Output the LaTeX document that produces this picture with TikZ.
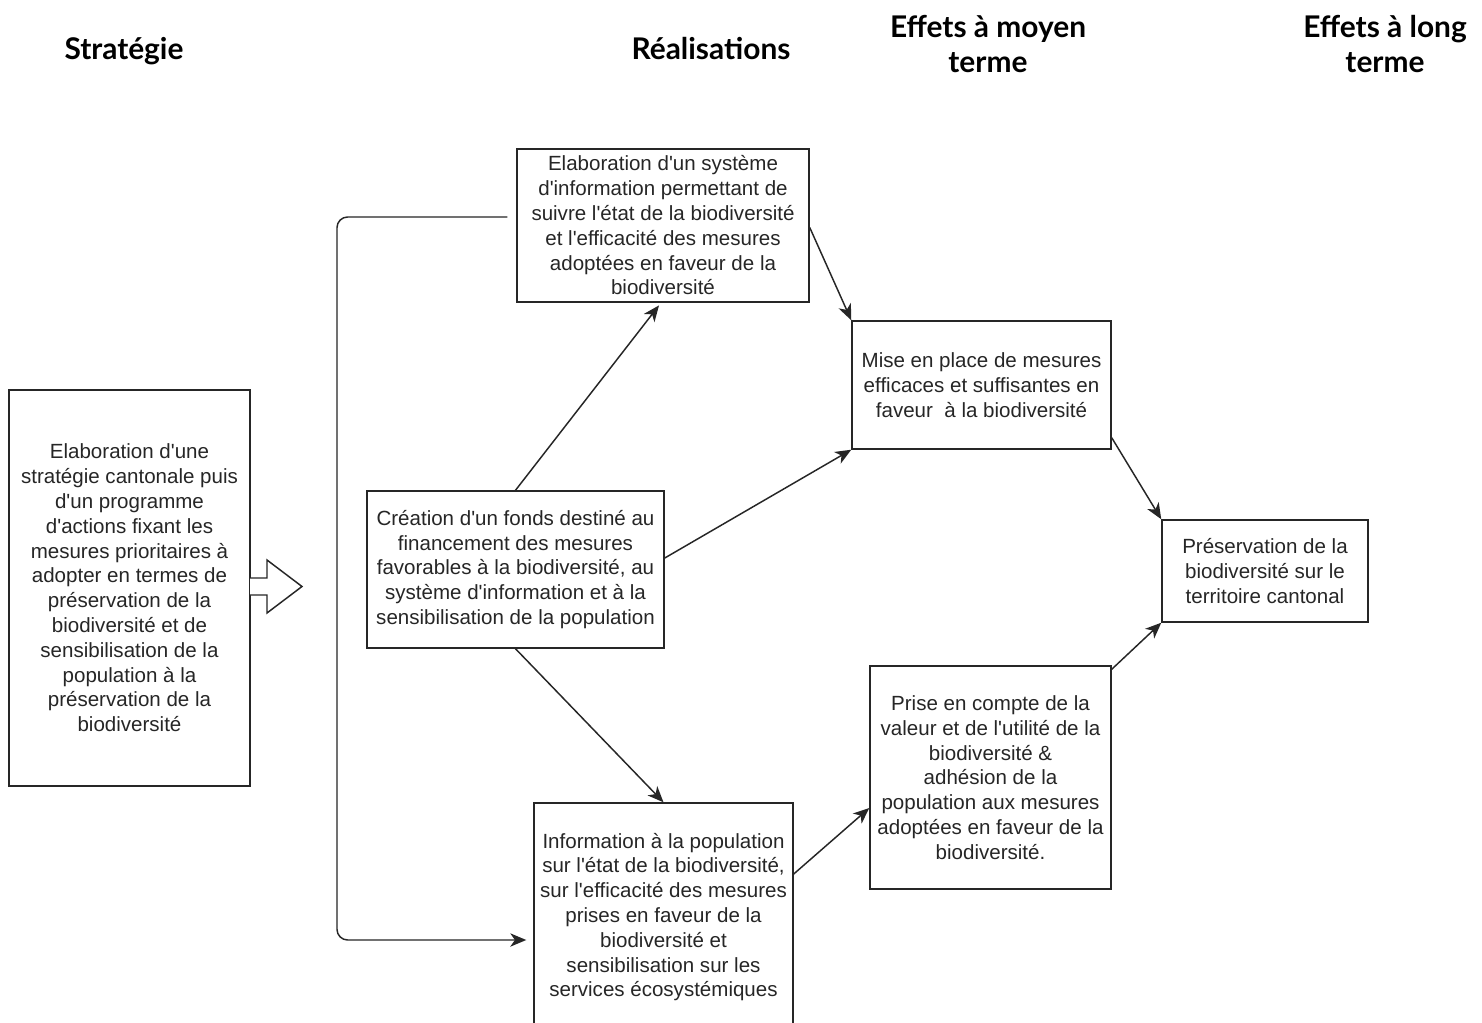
\documentclass[tikz,border=0pt]{standalone}
\usepackage{fontspec}
\setmainfont{Liberation Sans}[Ligatures=TeXOff]
\newfontfamily\latofont{Lato}
\usetikzlibrary{arrows.meta,calc}
\begin{document}
\begin{tikzpicture}[x=0.75pt,y=-0.75pt,
  box/.style={draw=black!85,line width=1.1pt,fill=white,inner sep=0pt,align=center,
    font=\fontsize{15.4}{18.6}\selectfont,text=black!85},
  head/.style={inner sep=0pt,align=center,font=\latofont\bfseries\fontsize{22.4}{26.25}\selectfont},
  arr/.style={draw=black!85,line width=1.1pt,-{Stealth[length=12pt,width=10pt,inset=3.5pt]}}]
\clip (0,0) rectangle (1482,1023);
\useasboundingbox (0,0) rectangle (1482,1023);
\fill[white] (0,0) rectangle (1482,1023);
% headers
\node[head] (h1) at (124,51) {Stratégie};
\node[head] (h2) at (711,49) {Réalisations};
\node[head] (h3) at (988,44.5) {Effets à moyen\\terme};
\node[head] (h4) at (1385,44.5) {Effets à long\\terme};
% boxes
\node[box,minimum width=180.75pt,minimum height=297pt] (left) at (129.5,588)
 {Elaboration d'une\\stratégie cantonale puis\\d'un programme\\d'actions fixant les\\mesures prioritaires à\\adopter en termes de\\préservation de la\\biodiversité et de\\sensibilisation de la\\population à la\\préservation de la\\biodiversité};
\node[box,minimum width=219pt,minimum height=114.75pt] (top) at (663,225.5)
 {Elaboration d'un système\\d'information permettant de\\suivre l'état de la biodiversité\\et l'efficacité des mesures\\adoptées en faveur de la\\biodiversité};
\node[box,minimum width=222.75pt,minimum height=117.75pt] (mid) at (515.5,569.5)
 {Création d'un fonds destiné au\\financement des mesures\\favorables à la biodiversité, au\\système d'information et à la\\sensibilisation de la population};
\node[box,minimum width=194.25pt,minimum height=171pt] (bot) at (663.5,917)
 {Information à la population\\sur l'état de la biodiversité,\\sur l'efficacité des mesures\\prises en faveur de la\\biodiversité et\\sensibilisation sur les\\services écosystémiques};
\node[box,minimum width=194.25pt,minimum height=96pt] (mise) at (981.5,385)
 {Mise en place de mesures\\efficaces et suffisantes en\\faveur~ à la biodiversité};
\node[box,minimum width=180.75pt,minimum height=167.25pt] (prise) at (990.5,777.5)
 {Prise en compte de la\\valeur et de l'utilité de la\\biodiversité \&\\adhésion de la\\population aux mesures\\adoptées en faveur de la\\biodiversité.};
\node[box,minimum width=154.5pt,minimum height=76.5pt] (pres) at (1265,571)
 {Préservation de la\\biodiversité sur le\\territoire cantonal};
% hollow arrow
\draw[draw=black!85,line width=1.1pt,fill=white,line join=miter]
  (250,578) -- (267,578) -- (267,560) -- (302,586.5) -- (267,613) -- (267,595) -- (250,595);
% connectors
\coordinate (lp1) at (337,217);
\coordinate (lp2) at (337,940);
\draw[arr,rounded corners=8pt,shorten <=6.75pt,shorten >=5.25pt]
  ([yshift=6.375pt]top.west) -- (lp1) -- (lp2) -- ([yshift=-17.25pt]bot.west);
\draw[arr] (mid.north) -- ([xshift=-3pt,yshift=-2pt]top.south);
\draw[arr] ([yshift=8.6pt]mid.east) -- (mise.south west);
\draw[arr] (mid.south) -- (bot.north);
\draw[arr] ([yshift=-1.5pt]top.east) -- (mise.north west);
\draw[arr] ([yshift=32.25pt]bot.east) -- ([yshift=-22.9pt]prise.west);
\draw[arr] ([yshift=9pt]mise.south east) -- (pres.north west);
\draw[arr] ([yshift=-3pt]prise.north east) -- (pres.south west);
\end{tikzpicture}
\end{document}
